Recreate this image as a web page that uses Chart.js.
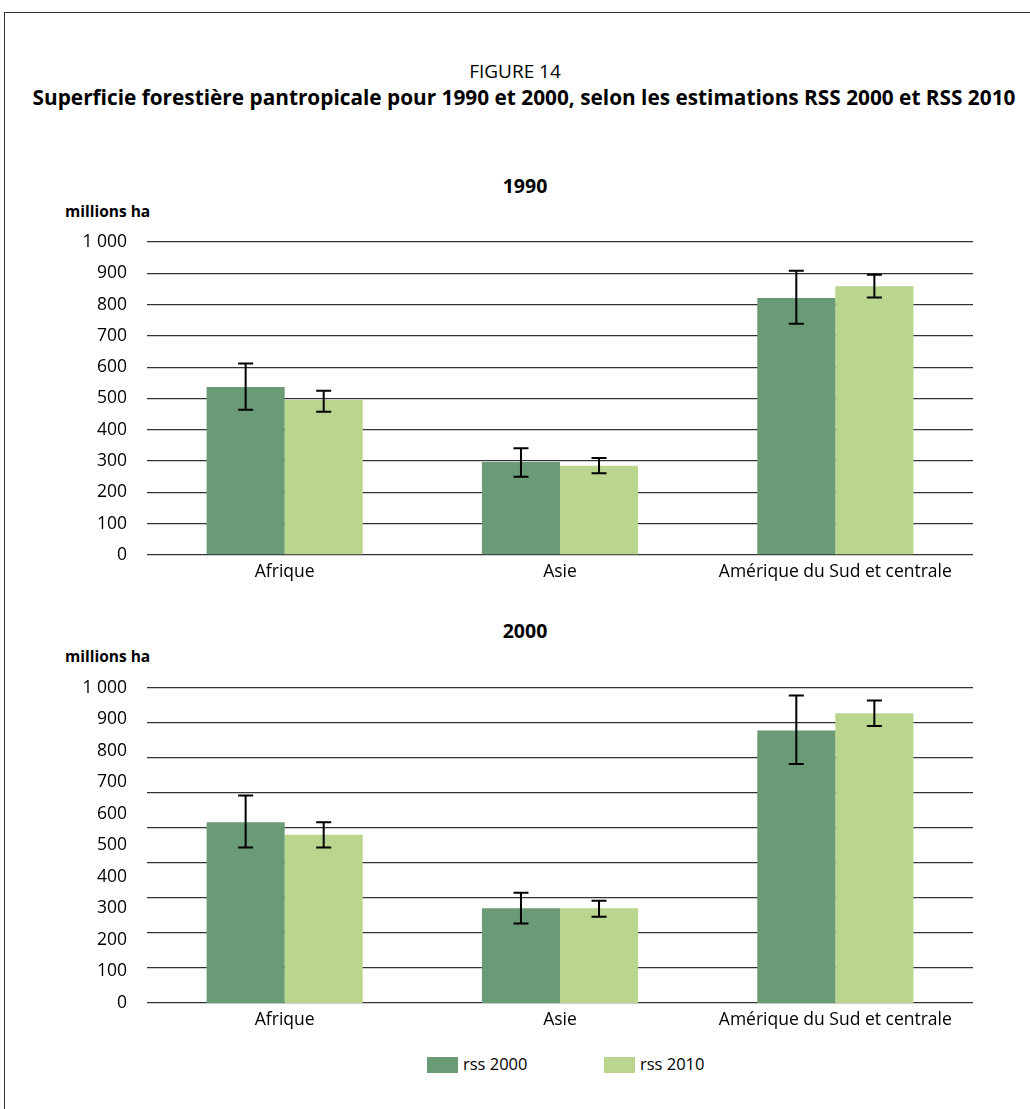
<!DOCTYPE html>
<html lang="fr">
<head>
    <meta charset="UTF-8">
    <title>Figure 14 - Superficie forestière pantropicale</title>
    <script src="https://cdn.jsdelivr.net/npm/chart.js"></script>
    <style>
        body { margin: 0; background: #fff; font-family: 'Open Sans', sans-serif; color: #000; }
        .page { position: relative; width: 1030px; height: 1109px; overflow: hidden; }
        .frame { position: absolute; left: 4px; top: 12px; width: 1040px; height: 1120px; border: 1px solid #333; }
        .txt { position: absolute; white-space: nowrap; }
        .center { left: 0; width: 1030px; text-align: center; }
        .box { position: absolute; left: 0; width: 1030px; }
        .legend { position: absolute; top: 1052px; left: 0; width: 1030px; height: 24px; }
        .legend span.item { position: absolute; font-size: 16.5px; line-height: 24px; }
        .legend span.sw { display: inline-block; width: 31px; height: 16px; vertical-align: -3px; margin-right: 5px; }
    </style>
</head>
<body>
<div class="page">
    <div class="frame"></div>
    <div class="txt center" style="top:58px; font-size:19px; line-height:26px;">FIGURE 14</div>
    <div class="txt" style="left:9px; width:1030px; text-align:center; top:83px; font-size:20.8px; line-height:28px; font-weight:bold;">Superficie forestière pantropicale pour 1990 et 2000, selon les estimations RSS 2000 et RSS 2010</div>

    <div class="txt" style="left:0; width:1050px; text-align:center; top:172px; font-size:19.5px; line-height:28px; font-weight:bold;">1990</div>
    <div class="txt" style="left:65px; top:200px; font-size:15.5px; line-height:22px; font-weight:bold;">millions ha</div>
    <div class="box" style="top:220px; height:380px;"><canvas id="chart1990"></canvas></div>

    <div class="txt" style="left:0; width:1050px; text-align:center; top:617px; font-size:19.5px; line-height:28px; font-weight:bold;">2000</div>
    <div class="txt" style="left:65px; top:645px; font-size:15.5px; line-height:22px; font-weight:bold;">millions ha</div>
    <div class="box" style="top:665px; height:383px;"><canvas id="chart2000"></canvas></div>

    <div class="legend" id="legend"></div>
</div>

<script>
    // categories and series (millions ha)
    const categories = ['Afrique', 'Asie', 'Amérique du Sud et centrale'];
    const seriesNames = ['rss 2000', 'rss 2010'];
    const colors = ['#6a9a76', '#bad58e'];
    const yTicks = [0, 100, 200, 300, 400, 500, 600, 700, 800, 900, 1000];

    // 1990
    const rss2000_1990 = [537, 297, 821];
    const rss2010_1990 = [495, 285, 859];
    const rss2000_1990_low = [464, 250, 739];
    const rss2000_1990_high = [612, 341, 908];
    const rss2010_1990_low = [458, 261, 823];
    const rss2010_1990_high = [525, 310, 895];

    // 2000
    const rss2000_2000 = [574, 301, 865];
    const rss2010_2000 = [534, 301, 920];
    const rss2000_2000_low = [494, 252, 759];
    const rss2000_2000_high = [659, 350, 976];
    const rss2010_2000_low = [494, 274, 879];
    const rss2010_2000_high = [574, 325, 960];

    Chart.defaults.font.family = "'Open Sans', sans-serif";
    Chart.defaults.color = '#000';

    // draws the min/max whiskers on top of each bar
    const errorBars = {
        id: 'errorBars',
        afterDatasetsDraw(chart) {
            const ctx = chart.ctx;
            const y = chart.scales.y;
            ctx.save();
            ctx.strokeStyle = '#000';
            ctx.lineWidth = 2;
            chart.data.datasets.forEach((ds, i) => {
                chart.getDatasetMeta(i).data.forEach((bar, j) => {
                    const top = y.getPixelForValue(ds.errHigh[j]);
                    const bot = y.getPixelForValue(ds.errLow[j]);
                    ctx.beginPath();
                    ctx.moveTo(bar.x, top); ctx.lineTo(bar.x, bot);
                    ctx.moveTo(bar.x - 7.5, top); ctx.lineTo(bar.x + 7.5, top);
                    ctx.moveTo(bar.x - 7.5, bot); ctx.lineTo(bar.x + 7.5, bot);
                    ctx.stroke();
                });
            });
            ctx.restore();
        }
    };

    function fmt(v) {
        return v >= 1000 ? '1 000' : String(v);
    }

    function makeChart(id, v2000, v2010, lo2000, hi2000, lo2010, hi2010, padTop, gridValues) {
        const scales = {
            x: {
                grid: { display: false, drawTicks: false },
                border: { display: false },
                ticks: { font: { size: 17.5 }, padding: 7, maxRotation: 0 },
                afterFit: s => { s.height = 45; }
            },
            y: {
                min: 0, max: 1000,
                afterBuildTicks: s => { s.ticks = yTicks.map(v => ({ value: v })); },
                border: { display: false },
                grid: {
                    display: !gridValues, color: '#333', lineWidth: 1.3,
                    drawTicks: true, tickLength: 20, tickColor: 'rgba(0,0,0,0)'
                },
                ticks: { font: { size: 17.5 }, padding: 0, callback: v => fmt(v) },
                afterFit: s => { s.width = 147; }
            }
        };
        if (gridValues) {
            // the gridlines of this panel do not follow the labelled ticks
            scales.yg = {
                position: 'left',
                min: 0, max: 1000,
                afterBuildTicks: s => { s.ticks = gridValues.map(v => ({ value: v })); },
                border: { display: false },
                grid: { color: '#333', lineWidth: 1.3, drawTicks: false },
                ticks: { display: false },
                afterFit: s => { s.width = 0; }
            };
        }
        return new Chart(document.getElementById(id), {
            type: 'bar',
            data: {
                labels: categories,
                datasets: [
                    { label: seriesNames[0], data: v2000, backgroundColor: colors[0], errLow: lo2000, errHigh: hi2000 },
                    { label: seriesNames[1], data: v2010, backgroundColor: colors[1], errLow: lo2010, errHigh: hi2010 }
                ]
            },
            options: {
                responsive: true,
                maintainAspectRatio: false,
                animation: false,
                categoryPercentage: 0.567,
                barPercentage: 1.0,
                layout: { padding: { top: padTop, right: 57, left: 0, bottom: 0 } },
                plugins: { legend: { display: false }, tooltip: { enabled: false } },
                scales: scales
            },
            plugins: [errorBars]
        });
    }

    makeChart('chart1990', rss2000_1990, rss2010_1990,
        rss2000_1990_low, rss2000_1990_high, rss2010_1990_low, rss2010_1990_high, 22, null);

    const grid2000 = Array.from({ length: 10 }, (_, i) => i * 1000 / 9);
    makeChart('chart2000', rss2000_2000, rss2010_2000,
        rss2000_2000_low, rss2000_2000_high, rss2010_2000_low, rss2010_2000_high, 23, grid2000);

    // legend
    const legend = document.getElementById('legend');
    const legendX = [427, 604];
    seriesNames.forEach((name, i) => {
        legend.innerHTML += `<span class="item" style="left:${legendX[i]}px"><span class="sw" style="background:${colors[i]}"></span>${name}</span>`;
    });
</script>
</body>
</html>
